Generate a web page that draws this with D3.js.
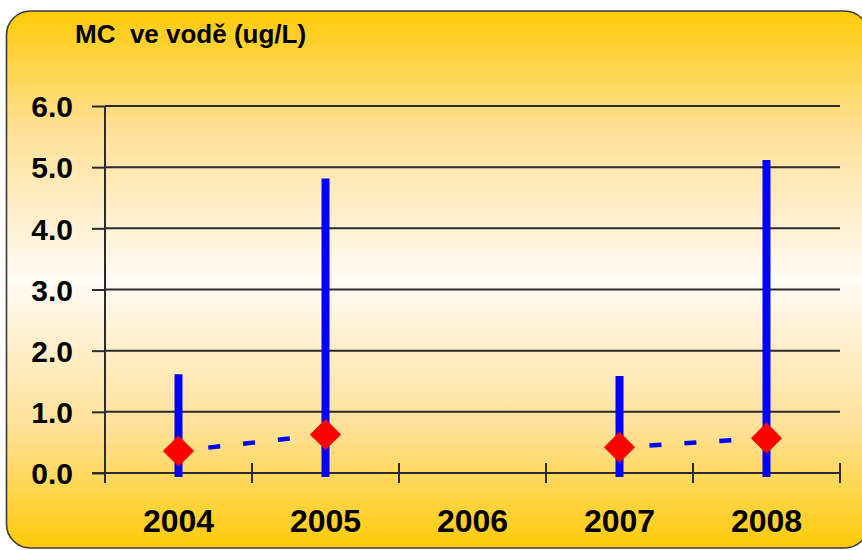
<!DOCTYPE html>
<html>
<head>
<meta charset="utf-8">
<script src="https://cdn.jsdelivr.net/npm/d3@7"></script>
<style>
  html, body { margin: 0; padding: 0; background: #ffffff; }
  svg { display: block; }
  text { font-family: "Liberation Sans", Arial, sans-serif; font-weight: bold; fill: #000; }
</style>
</head>
<body>
<svg id="chart" width="862" height="550"></svg>
<script>
// Yearly microcystin concentrations in water (µg/L)
const years = ["2004", "2005", "2006", "2007", "2008"];
const minValues = [0, 0, null, 0, 0];          // low end of each range
const maxValues = [1.55, 4.75, null, 1.52, 5.05]; // high end of each range
const meanValues = [0.36, 0.63, null, 0.42, 0.57]; // average (diamond)
const yTicks = [0, 1, 2, 3, 4, 5, 6];
const titleText = "MC  ve vodě (ug/L)";

const svg = d3.select("#chart");
const plot = { left: 105, right: 840, top: 106, bottom: 473 };

// Panel background with vertical gold–cream–gold gradient
const defs = svg.append("defs");
const grad = defs.append("linearGradient")
  .attr("id", "panelFill").attr("x1", 0).attr("y1", 0).attr("x2", 0).attr("y2", 1);
[["0%", "#FFCB08"], ["22%", "#FFE196"], ["50%", "#FFFBF5"], ["78%", "#FFE196"], ["100%", "#FFCB08"]]
  .forEach(([o, c]) => grad.append("stop").attr("offset", o).attr("stop-color", c));

svg.append("rect")
  .attr("x", 6.5).attr("y", 11).attr("width", 862).attr("height", 537)
  .attr("rx", 24).attr("ry", 24)
  .attr("fill", "url(#panelFill)")
  .attr("stroke", "#3a3a3a").attr("stroke-width", 1.6);

// Scales
const x = d3.scaleBand().domain(years).range([plot.left, plot.right]).padding(0);
const y = d3.scaleLinear().domain([0, 6]).range([plot.bottom, plot.top]);

// Horizontal gridlines
svg.append("g").selectAll("line").data(yTicks.slice(1)).join("line")
  .attr("x1", plot.left).attr("x2", plot.right)
  .attr("y1", d => y(d)).attr("y2", d => y(d))
  .attr("stroke", "#2b2b2b").attr("stroke-width", 2);

// Y axis
const yAxis = svg.append("g")
  .attr("transform", `translate(${plot.left},0)`)
  .call(d3.axisLeft(y).tickValues(yTicks).tickFormat(d3.format(".1f")).tickSize(13).tickPadding(19));
yAxis.select(".domain").remove();
yAxis.selectAll(".tick line").attr("stroke", "#2b2b2b").attr("stroke-width", 2);
yAxis.selectAll(".tick text").style("font-size", "30px").attr("dy", "0.36em");
svg.append("line")
  .attr("x1", plot.left).attr("x2", plot.left)
  .attr("y1", plot.top).attr("y2", plot.bottom + 10)
  .attr("stroke", "#2b2b2b").attr("stroke-width", 2);

// X axis: baseline with crossing tick marks at category boundaries
svg.append("line")
  .attr("x1", plot.left - 13).attr("x2", plot.right)
  .attr("y1", plot.bottom).attr("y2", plot.bottom)
  .attr("stroke", "#2b2b2b").attr("stroke-width", 2);
const bounds = years.map(d => x(d)).concat([x(years[years.length - 1]) + x.bandwidth()]);
svg.append("g").selectAll("line").data(bounds.slice(1)).join("line")
  .attr("x1", d => d).attr("x2", d => d)
  .attr("y1", plot.bottom - 10).attr("y2", plot.bottom + 10)
  .attr("stroke", "#2b2b2b").attr("stroke-width", 2);
svg.append("g").selectAll("text").data(years).join("text")
  .attr("x", d => x(d) + x.bandwidth() / 2)
  .attr("y", 532)
  .attr("text-anchor", "middle")
  .style("font-size", "32px")
  .text(d => d);

// Data rows
const rows = years.map((yr, i) => ({
  year: yr, lo: minValues[i], hi: maxValues[i], mean: meanValues[i]
}));
const cx = d => x(d.year) + x.bandwidth() / 2;

// Range lines
svg.append("g").selectAll("line").data(rows.filter(d => d.hi != null)).join("line")
  .attr("x1", cx).attr("x2", cx)
  .attr("y1", d => y(d.lo)).attr("y2", d => y(d.hi))
  .attr("stroke", "#0000FF").attr("stroke-width", 8).attr("stroke-linecap", "square");

// Dashed mean line, broken where a year has no data
const meanLine = d3.line()
  .defined(d => d.mean != null)
  .x(cx).y(d => y(d.mean));
svg.append("path")
  .datum(rows)
  .attr("d", meanLine)
  .attr("fill", "none")
  .attr("stroke", "#0000FF").attr("stroke-width", 4.5)
  .attr("stroke-dasharray", "12,23").attr("stroke-dashoffset", 5);

// Mean markers (diamonds)
const diamond = d3.symbol().type(d3.symbolSquare).size(22 * 22);
svg.append("g").selectAll("path").data(rows.filter(d => d.mean != null)).join("path")
  .attr("d", diamond)
  .attr("transform", d => `translate(${cx(d)},${y(d.mean)}) rotate(45)`)
  .attr("fill", "#FF0000");

// Title
svg.append("text")
  .attr("x", 75).attr("y", 43)
  .attr("xml:space", "preserve")
  .style("white-space", "pre")
  .style("font-size", "26px")
  .text(titleText);
</script>
</body>
</html>
